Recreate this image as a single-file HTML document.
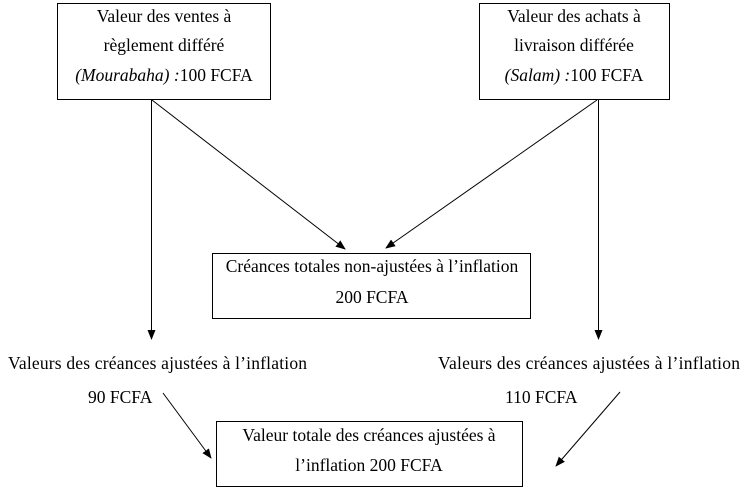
<!DOCTYPE html>
<html><head><meta charset="utf-8"><style>
html,body{margin:0;padding:0;background:#fff;width:750px;height:490px;overflow:hidden}
svg text{font-family:"Liberation Serif",serif;font-size:17.5px;fill:#000}
</style></head><body>
<svg width="750" height="490" viewBox="0 0 750 490" xmlns="http://www.w3.org/2000/svg">
<defs><marker id="a" markerWidth="10" markerHeight="10" refX="9" refY="5" orient="auto" markerUnits="userSpaceOnUse"><path d="M0,1 L10,5 L0,9 z" fill="#000"/></marker></defs>
<g fill="none" stroke="#000" stroke-width="1">
<rect x="57.5" y="3.5" width="213" height="96"/>
<rect x="479.5" y="3.5" width="190" height="96"/>
<rect x="212.5" y="253.5" width="318" height="65"/>
<rect x="216.5" y="421.5" width="306" height="65"/>
<line x1="151.5" y1="100" x2="151.5" y2="339" marker-end="url(#a)"/>
<line x1="598.5" y1="100" x2="598.5" y2="339" marker-end="url(#a)"/>
<line x1="152" y1="100" x2="345" y2="249" marker-end="url(#a)"/>
<line x1="597" y1="100" x2="386" y2="248" marker-end="url(#a)"/>
<line x1="163" y1="393" x2="211" y2="458" marker-end="url(#a)"/>
<line x1="620" y1="392" x2="556" y2="466" marker-end="url(#a)"/>
</g>
<g text-anchor="middle">
<text x="164" y="22">Valeur des ventes à</text>
<text x="164" y="51">règlement différé</text>
<text x="164" y="81"><tspan font-style="italic">(Mourabaha) :</tspan>100 FCFA</text>
<text x="574" y="22">Valeur des achats à</text>
<text x="574" y="51">livraison différée</text>
<text x="574" y="81"><tspan font-style="italic">(Salam) :</tspan>100 FCFA</text>
<text x="372" y="272">Créances totales non-ajustées à l’inflation</text>
<text x="372" y="303">200 FCFA</text>
<text x="369" y="441">Valeur totale des créances ajustées à</text>
<text x="369" y="471">l’inflation 200 FCFA</text>
</g>
<text x="8" y="369" textLength="299">Valeurs des créances ajustées à l’inflation</text>
<text x="88" y="403">90 FCFA</text>
<text x="438" y="369" textLength="302">Valeurs des créances ajustées  à l’inflation</text>
<text x="505" y="403">110 FCFA</text>
</svg>
</body></html>
